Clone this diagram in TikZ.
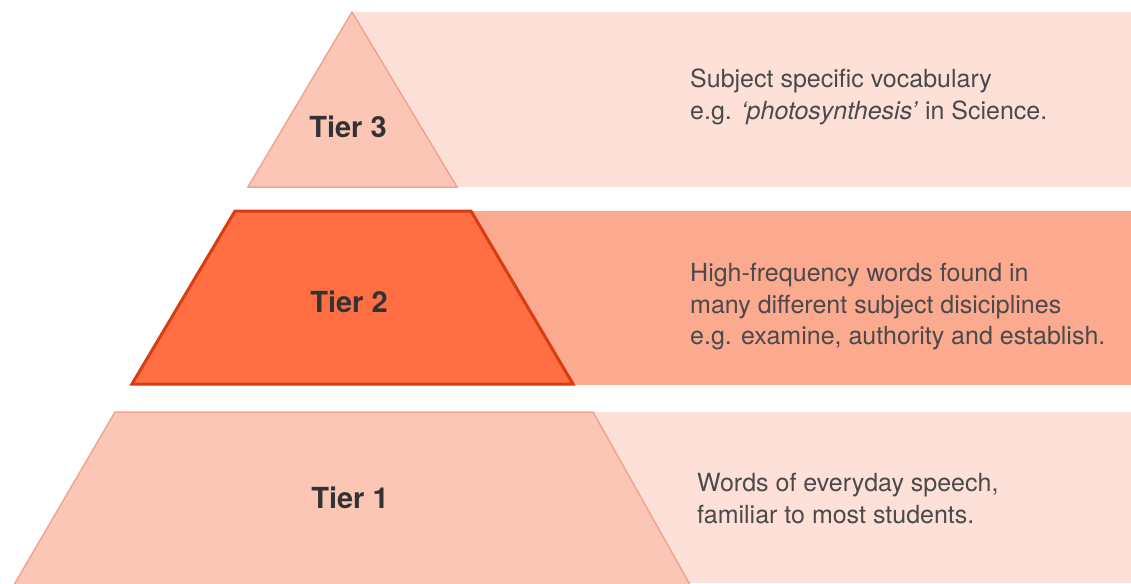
\documentclass[tikz,border=0pt]{standalone}
\usepackage{fontspec}
\setmainfont{TeX Gyre Heros}
\definecolor{bandlight}{HTML}{FDE1D9}
\definecolor{bandmid}{HTML}{FCAA8F}
\definecolor{tierlight}{HTML}{FBC6B6}
\definecolor{tierlightedge}{HTML}{F2A491}
\definecolor{tierdark}{HTML}{FF6F43}
\definecolor{tierdarkedge}{HTML}{D93C10}
\definecolor{desctext}{HTML}{4A4A4A}
\definecolor{labeltext}{HTML}{333333}
\tikzset{
  desc/.style={anchor=base west, inner sep=0pt, text=desctext, font=\fontsize{25}{30}\selectfont},
  tierlabel/.style={anchor=center, inner sep=0pt, text=labeltext, font=\bfseries\fontsize{29}{34}\selectfont},
  lighttier/.style={fill=tierlight, draw=tierlightedge, line width=1.5pt, line join=miter},
  darktier/.style={fill=tierdark, draw=tierdarkedge, line width=3pt, line join=miter},
}
\begin{document}
\begin{tikzpicture}[x=1pt,y=-1pt]
\useasboundingbox (0,0) rectangle (1131,583);
\fill[white] (0,0) rectangle (1131,583);
% bands
\fill[bandlight] (352,12) rectangle (1131,187);
\fill[bandmid] (470,211) rectangle (1131,385);
\fill[bandlight] (593,412) rectangle (1131,583);
% tiers
\draw[lighttier] (352,12) -- (457,187) -- (248,187) -- cycle;
\draw[darktier] (235,211) -- (471,211) -- (573,384) -- (132,384) -- cycle;
\draw[lighttier] (115,412) -- (593,412) -- (693,590) -- (11,590) -- cycle;
% labels
\node[tierlabel] (t3) at (348,127) {Tier 3};
\node[tierlabel] (t2) at (349,302) {Tier 2};
\node[tierlabel] (t1) at (350,498) {Tier 1};
% descriptions
\node[desc] (d3a) at (690,88) {Subject specific vocabulary};
\node[desc] (d3b) at (690,120) {e.g. \textit{‘photosynthesis’} in Science.};
\node[desc] (d2a) at (690,281) {High-frequency words found in};
\node[desc] (d2b) at (690,313) {many different subject disiciplines};
\node[desc] (d2c) at (690,344) {e.g. examine, authority and establish.};
\node[desc] (d1a) at (697,491) {Words of everyday speech,};
\node[desc] (d1b) at (697,523) {familiar to most students.};
\end{tikzpicture}
\end{document}
